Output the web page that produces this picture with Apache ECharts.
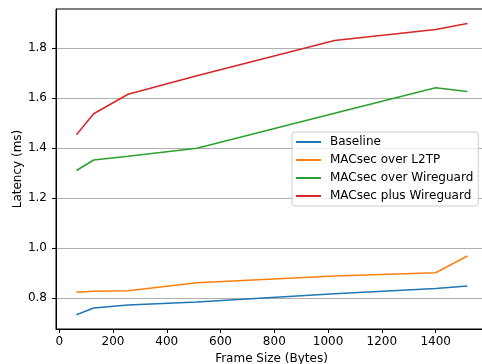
<!DOCTYPE html>
<html>
<head>
<meta charset="utf-8">
<script src="https://cdn.jsdelivr.net/npm/echarts@6/dist/echarts.min.js"></script>
<style>
  html, body { margin: 0; padding: 0; background: #fff; overflow: hidden; }
  #chart { width: 490px; height: 364px; }
</style>
</head>
<body>
<div id="chart"></div>
<script>
// frame sizes measured (bytes)
var frameSizes = [64, 128, 256, 512, 1024, 1400, 1518];

var baseline = [0.732, 0.759, 0.771, 0.783, 0.816, 0.837, 0.847];
var macsecL2tp = [0.822, 0.826, 0.828, 0.860, 0.887, 0.900, 0.967];
var macsecOverWg = [1.309, 1.351, 1.366, 1.398, 1.538, 1.640, 1.625];
var macsecPlusWg = [1.452, 1.536, 1.614, 1.688, 1.829, 1.873, 1.897];

var xTicks = [0, 200, 400, 600, 800, 1000, 1200, 1400];
var yTicks = [0.8, 1.0, 1.2, 1.4, 1.6, 1.8];

var seriesNames = ['Baseline', 'MACsec over L2TP', 'MACsec over Wireguard', 'MACsec plus Wireguard'];
var seriesColors = ['#1f77b4', '#ff7f0e', '#2ca02c', '#d62728'];

function pairs(ys) {
    return frameSizes.map(function (x, i) { return [x, ys[i]]; });
}

var font = 'DejaVu Sans';
var chart = echarts.init(document.getElementById('chart'));

// plot area runs a little past the right edge of the window, like the original
var option = {
    animation: false,
    grid: {
        left: 56, right: 3, top: 9, bottom: 35,
        outerBoundsMode: 'none',
        containLabel: false,
        show: true, borderColor: '#000', borderWidth: 1
    },
    legend: {
        left: 292, top: 132,
        orient: 'vertical',
        icon: 'rect',
        itemWidth: 25, itemHeight: 2,
        itemGap: 6,
        padding: [4, 5, 4, 4],
        backgroundColor: 'rgba(255,255,255,0.8)',
        borderColor: '#cccccc', borderWidth: 1, borderRadius: 3,
        textStyle: { fontFamily: font, fontSize: 12, color: '#000', padding: [0, 0, 0, 4] },
        data: seriesNames
    },
    xAxis: {
        type: 'value',
        min: -12, max: 1591,
        name: 'Frame Size (Bytes)',
        nameLocation: 'middle',
        nameGap: 24,
        nameTextStyle: { fontFamily: font, fontSize: 12, color: '#000' },
        axisLine: { onZero: false, lineStyle: { color: '#000', width: 1 } },
        axisTick: { show: true, length: 4, lineStyle: { color: '#000' }, customValues: xTicks },
        axisLabel: {
            fontFamily: font, fontSize: 12, color: '#000', margin: 7,
            customValues: xTicks,
            formatter: function (v) { return String(v); }
        },
        splitLine: { show: false }
    },
    yAxis: {
        type: 'value',
        min: 0.675, max: 1.955,
        name: 'Latency (ms)',
        nameLocation: 'middle',
        nameGap: 32,
        nameMoveOverlap: false,
        nameTextStyle: { fontFamily: font, fontSize: 12, color: '#000' },
        axisLine: { show: true, onZero: false, lineStyle: { color: '#000', width: 1 } },
        axisTick: { show: true, length: 4, lineStyle: { color: '#000' }, customValues: yTicks },
        axisLabel: {
            fontFamily: font, fontSize: 12, color: '#000', margin: 9,
            customValues: yTicks,
            formatter: function (v) { return v.toFixed(1); }
        },
        splitLine: { show: true, lineStyle: { color: '#b0b0b0', width: 1 } }
    },
    series: [baseline, macsecL2tp, macsecOverWg, macsecPlusWg].map(function (ys, i) {
        return {
            name: seriesNames[i],
            type: 'line',
            data: pairs(ys),
            showSymbol: false,
            symbol: 'none',
            color: seriesColors[i],
            lineStyle: { width: 1.5, color: seriesColors[i] }
        };
    })
};

chart.setOption(option);
</script>
</body>
</html>
